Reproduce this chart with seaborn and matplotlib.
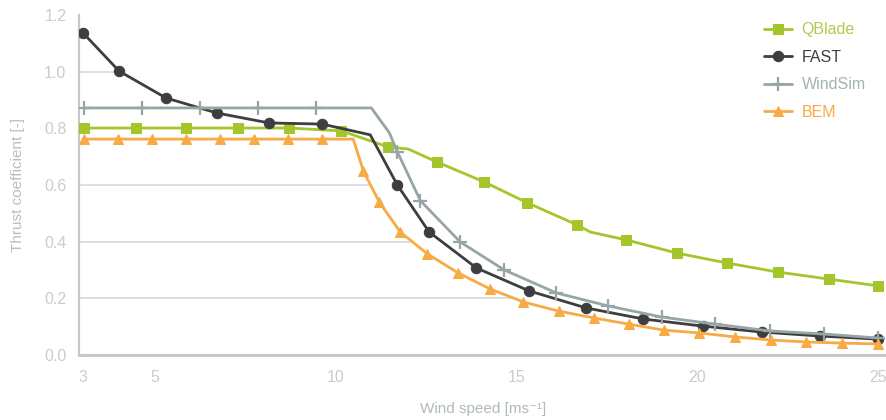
import numpy as np
import pandas as pd
import matplotlib
matplotlib.use("Agg")
import matplotlib.pyplot as plt
import seaborn as sns

# Thrust coefficient vs wind speed for four solvers
fast_x = [3.0, 4.0, 5.3, 6.71, 8.15, 9.62, 10.95, 11.7, 12.58, 13.89, 15.35, 16.93, 18.51, 20.15, 21.78, 23.39, 25.0]
fast_y = [1.137, 1.002, 0.907, 0.854, 0.819, 0.815, 0.777, 0.600, 0.434, 0.307, 0.226, 0.166, 0.127, 0.102, 0.081, 0.067, 0.056]
fast_marks = [0, 1, 2, 3, 4, 5, 7, 8, 9, 10, 11, 12, 13, 14, 15, 16]

qblade_x = [3.03, 4.47, 5.85, 7.29, 8.71, 10.15, 11.45, 12.0, 12.8, 14.1, 15.3, 16.68, 17.04, 18.04, 19.43, 20.81, 22.22, 23.64, 25.0]
qblade_y = [0.801, 0.801, 0.801, 0.801, 0.801, 0.791, 0.734, 0.727, 0.681, 0.611, 0.537, 0.459, 0.434, 0.406, 0.360, 0.325, 0.293, 0.268, 0.244]
qblade_marks = [0, 1, 2, 3, 4, 5, 6, 8, 9, 10, 11, 13, 14, 15, 16, 17, 18]

windsim_x = [3.03, 4.64, 6.24, 7.85, 9.45, 10.98, 11.48, 11.7, 12.34, 13.44, 14.66, 16.1, 17.54, 19.01, 20.5, 22.0, 23.5, 25.0]
windsim_y = [0.872, 0.872, 0.872, 0.872, 0.872, 0.872, 0.784, 0.717, 0.544, 0.399, 0.300, 0.219, 0.173, 0.134, 0.109, 0.085, 0.074, 0.060]
windsim_marks = [0, 1, 2, 3, 4, 7, 8, 9, 10, 11, 12, 13, 14, 15, 16, 17]

bem_x = [3.03, 3.97, 4.91, 5.85, 6.79, 7.74, 8.68, 9.62, 10.48, 10.76, 11.2, 11.78, 12.53, 13.39, 14.27, 15.19,
         16.16, 17.13, 18.1, 19.07, 20.04, 21.03, 22.03, 23.0, 24.0, 25.0]
bem_y = [0.762, 0.762, 0.762, 0.762, 0.762, 0.762, 0.762, 0.762, 0.762, 0.649, 0.540, 0.434, 0.357, 0.289, 0.233, 0.187,
         0.155, 0.131, 0.109, 0.088, 0.078, 0.064, 0.053, 0.046, 0.042, 0.039]
bem_marks = [0, 1, 2, 3, 4, 5, 6, 7, 9, 10, 11, 12, 13, 14, 15, 16, 17, 18, 19, 20, 21, 22, 23, 24, 25]

x_ticks = [3, 5, 10, 15, 20, 25]
y_ticks = [0.0, 0.2, 0.4, 0.6, 0.8, 1.0, 1.2]

# name, x, y, marker indices, line colour, label colour, marker, size, extra style
series = [
    ("QBlade", qblade_x, qblade_y, qblade_marks, "#A4C52C", "#AECB52", "s", 7.5, {}),
    ("FAST", fast_x, fast_y, fast_marks, "#3E3E40", "#3E3E40", "o", 7.5, {}),
    ("WindSim", windsim_x, windsim_y, windsim_marks, "#97A5A7", "#A5B1B3", "+", 9.5, {"markeredgewidth": 1.6}),
    ("BEM", bem_x, bem_y, bem_marks, "#F7AA45", "#F7AA45", "^", 7.5, {}),
]

sns.set_theme(style="white")
plt.rcParams["font.family"] = ["Liberation Sans", "DejaVu Sans"]

fig = plt.figure(figsize=(8.87, 4.20), dpi=100)
ax = fig.add_axes([79 / 887, 65 / 420, 808 / 887, 340 / 420])

for name, xs, ys, marks, color, tcolor, mk, ms, extra in series:
    df = pd.DataFrame({"x": xs, "y": ys})
    sns.lineplot(data=df, x="x", y="y", ax=ax, color=color, linewidth=2.0,
                 marker=mk, markersize=ms, markevery=marks, markeredgecolor=color,
                 markerfacecolor=color, label=name, zorder=3, sort=False, **extra)

xmin, xmax = 2.89, 25.25
ax.set_xlim(xmin, xmax)
ax.set_ylim(0, 1.2)

# Horizontal guides run from the axis until the first curve that crosses them
for level in y_ticks[1:-1]:
    xcross = None
    for _, xs, ys, *_ in series:
        d = np.asarray(ys) - level
        xa = np.asarray(xs)
        for i in range(len(d) - 1):
            if d[i] * d[i + 1] < 0 or (d[i + 1] == 0 and d[i] != 0):
                xc = xa[i] + (xa[i + 1] - xa[i]) * d[i] / (d[i] - d[i + 1])
                xcross = xc if xcross is None else min(xcross, xc)
                break
    if xcross is not None:
        ax.hlines(level, xmin, xcross, color="#D6DADC", linewidth=1.2, zorder=1)

ax.set_xticks(x_ticks)
ax.set_xticklabels([str(v) for v in x_ticks])
ax.set_yticks(y_ticks)
ax.set_yticklabels([f"{v:.1f}" for v in y_ticks])
ax.tick_params(axis="both", length=0, labelsize=11.5, labelcolor="#C8CDD0")
ax.tick_params(axis="x", pad=11)
ax.tick_params(axis="y", pad=9)

ax.set_xlabel("Wind speed [ms⁻¹]", fontsize=11, color="#B0B9BB", labelpad=12)
ax.set_ylabel("Thrust coefficient [-]", fontsize=11, color="#B6BEC0", labelpad=14)

for side in ["top", "right"]:
    ax.spines[side].set_visible(False)
ax.spines["left"].set_color("#C3C9CC")
ax.spines["left"].set_linewidth(1.6)
ax.spines["bottom"].set_color("#C3C9CC")
ax.spines["bottom"].set_linewidth(2.2)

leg = ax.legend(loc="upper left", bbox_to_anchor=(753 / 887, 1 - 11 / 420),
                bbox_transform=fig.transFigure, frameon=False, fontsize=11.5,
                handlelength=1.75, handletextpad=0.6,
                labelspacing=0.78, borderpad=0.2)
for text, s in zip(leg.get_texts(), series):
    text.set_color(s[5])

fig.savefig("out.png", dpi=100)
